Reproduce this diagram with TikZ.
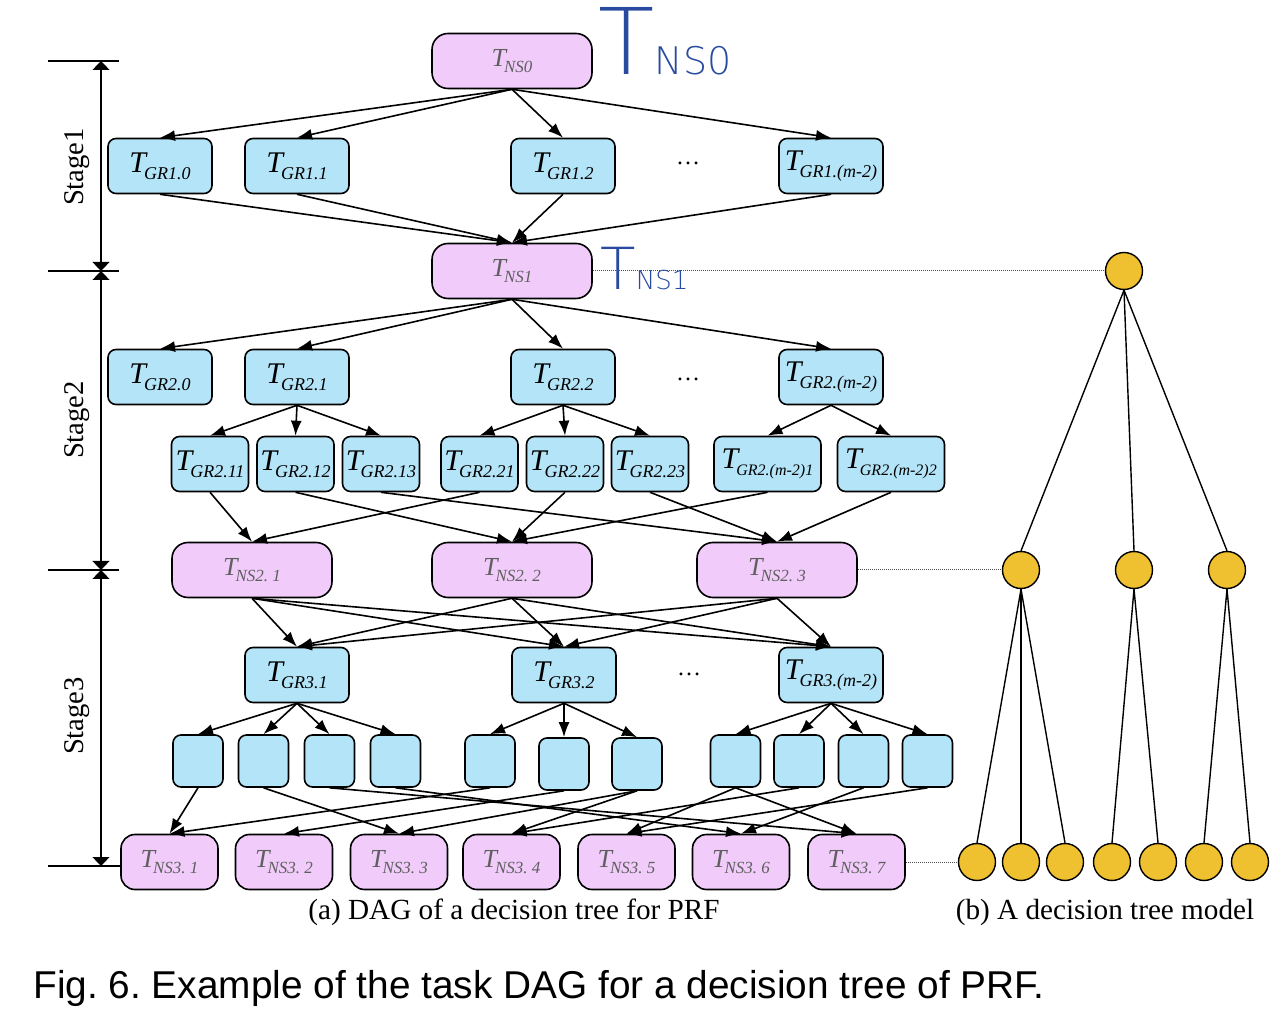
\documentclass[tikz,border=0pt]{standalone}
\usepackage{fontspec}
\setmainfont{Liberation Serif}
\newfontfamily\capfont{Liberation Sans}
\IfFontExistsTF{DejaVu Sans ExtraLight}
  {\newfontfamily\handfont{DejaVu Sans ExtraLight}}
  {\newfontfamily\handfont{Latin Modern Sans}}
\usepackage{tikz}
\usetikzlibrary{positioning, calc, arrows.meta}
\frenchspacing

\definecolor{nsPink}{RGB}{241, 204, 250}
\definecolor{grBlue}{RGB}{180, 228, 247}
\definecolor{treeGold}{RGB}{239, 192, 48}
\definecolor{handBlue}{RGB}{40, 75, 160}
\definecolor{nsGray}{RGB}{95, 95, 95}

% task labels: T with a small italic index
\newcommand{\tgr}[2][9pt]{{\fontsize{15pt}{15pt}\selectfont\itshape T}\kern-1pt\raisebox{-3.5pt}{\fontsize{#1}{#1}\selectfont\itshape #2}}
\newcommand{\tns}[1]{\textcolor{nsGray}{{\fontsize{13pt}{13pt}\selectfont\itshape T}\kern-1pt\raisebox{-3pt}{\fontsize{8.5pt}{8.5pt}\selectfont\itshape #1}}}

\begin{document}
\begin{tikzpicture}[
    x=0.5pt, y=-0.5pt,
    grbox/.style={rectangle, draw, line width=0.8pt, fill=grBlue, rounded corners=4pt,
                  minimum width=52pt, minimum height=27.5pt, inner sep=0pt},
    subbox/.style={grbox, minimum width=38.5pt},
    widebox/.style={grbox, minimum width=53.5pt},
    smallbox/.style={grbox, minimum width=25pt, minimum height=26pt},
    nsbox/.style={rectangle, draw, line width=0.8pt, fill=nsPink, rounded corners=8pt,
                  minimum width=80pt, minimum height=27.5pt, inner sep=0pt},
    ns3box/.style={nsbox, minimum width=48.5pt, rounded corners=7pt},
    arrow/.style={-{Latex[length=7.5pt, width=5.5pt]}, line width=0.8pt},
    dimarrow/.style={{Triangle[length=4.5pt, width=8.5pt]}-{Triangle[length=4.5pt, width=8.5pt]}, line width=0.6pt},
    ticklin/.style={line width=0.6pt},
    dotline/.style={dash pattern=on 0.4pt off 0.6pt, black!70, line width=0.5pt},
    treenode/.style={circle, draw, line width=0.7pt, fill=treeGold, minimum size=18.5pt, inner sep=0pt},
    treeline/.style={line width=0.7pt},
    stagelbl/.style={rotate=90, font=\fontsize{14.3pt}{14.3pt}\selectfont},
    subcap/.style={font=\fontsize{14.6pt}{14.6pt}\selectfont},
    figcap/.style={font=\capfont\fontsize{19.4pt}{19.4pt}\selectfont, anchor=west, inner sep=0pt},
    hand/.style={text=handBlue, font=\handfont, inner sep=0pt, anchor=base west},
    dotsnode/.style={font=\fontsize{12pt}{12pt}\selectfont},
  ]
    \useasboundingbox (0,0) rectangle (1284,1036);

    % Stage 1
    \node[nsbox] (NS0) at (512,61) {\tns{NS0}};
    \node[grbox] (GR10) at (160,166) {\tgr{GR1.0}};
    \node[grbox] (GR11) at (297,166) {\tgr{GR1.1}};
    \node[grbox] (GR12) at (563,166) {\tgr{GR1.2}};
    \node[dotsnode] (D1) at (688,163) {\dots};
    \node[grbox] (GR1m) at (831,166) {\tgr{GR1.(m-2)}};
    \node[nsbox] (NS1) at (512,271) {\tns{NS1}};
    \foreach \t in {GR10,GR11,GR12,GR1m}
      \draw[arrow] (NS0.south) -- (\t.north);
    \foreach \s in {GR10,GR11,GR12,GR1m}
      \draw[arrow] (\s.south) -- (NS1.north);

    % Stage 2
    \node[grbox] (GR20) at (160,377) {\tgr{GR2.0}};
    \node[grbox] (GR21) at (297,377) {\tgr{GR2.1}};
    \node[grbox] (GR22) at (563,377) {\tgr{GR2.2}};
    \node[dotsnode] (D2) at (688,379) {\dots};
    \node[grbox] (GR2m) at (831,377) {\tgr{GR2.(m-2)}};
    \node[subbox] (GR211) at (210,464) {\tgr{GR2.11}};
    \node[subbox] (GR212) at (295.5,464) {\tgr{GR2.12}};
    \node[subbox] (GR213) at (381,464) {\tgr{GR2.13}};
    \node[subbox] (GR221) at (479.5,464) {\tgr{GR2.21}};
    \node[subbox] (GR222) at (565,464) {\tgr{GR2.22}};
    \node[subbox] (GR223) at (650,464) {\tgr{GR2.23}};
    \node[widebox] (GR2m1) at (767.5,464) {\tgr[8pt]{GR2.(m-2)1}};
    \node[widebox] (GR2m2) at (891,464) {\tgr[8pt]{GR2.(m-2)2}};
    \node[nsbox] (NS21) at (252,570) {\tns{NS2. 1}};
    \node[nsbox] (NS22) at (512,570) {\tns{NS2. 2}};
    \node[nsbox] (NS23) at (777,570) {\tns{NS2. 3}};
    \foreach \t in {GR20,GR21,GR22,GR2m}
      \draw[arrow] (NS1.south) -- (\t.north);
    \foreach \s/\t in {GR21/GR211, GR21/GR212, GR21/GR213, GR22/GR221, GR22/GR222,
                       GR22/GR223, GR2m/GR2m1, GR2m/GR2m2}
      \draw[arrow] (\s.south) -- (\t.north);
    \foreach \s/\t in {GR211/NS21, GR212/NS22, GR213/NS23, GR221/NS21, GR222/NS22,
                       GR223/NS23, GR2m1/NS22, GR2m2/NS23}
      \draw[arrow] (\s.south) -- (\t.north);

    % Stage 3
    \node[grbox] (GR31) at (297,675) {\tgr{GR3.1}};
    \node[grbox] (GR32) at (564,675) {\tgr{GR3.2}};
    \node[dotsnode] (D3) at (689,674) {\dots};
    \node[grbox] (GR3m) at (831,675) {\tgr{GR3.(m-2)}};
    \foreach \x/\y [count=\i] in {198/761, 263.5/761, 329.5/761, 395.5/761, 490/761, 564/764,
                                  637/764, 735.5/761, 799/761, 863.5/761, 927.5/761}
      \node[smallbox] (B\i) at (\x,\y) {};
    \foreach \x [count=\i] in {169.5, 284, 399, 511.5, 626.5, 741, 856.5}
      \node[ns3box] (N\i) at (\x,862) {\tns{NS3. \i}};
    \foreach \s in {NS21,NS22,NS23}
      \foreach \t in {GR31,GR32,GR3m}
        \draw[arrow] (\s.south) -- (\t.north);
    \foreach \s/\t in {GR31/B1, GR31/B2, GR31/B3, GR31/B4, GR32/B5, GR32/B6, GR32/B7,
                       GR3m/B8, GR3m/B9, GR3m/B10, GR3m/B11}
      \draw[arrow] (\s.south) -- (\t.north);
    \foreach \s/\t in {B1/N1, B5/N1, B6/N2, B2/N3, B7/N3, B7/N4, B9/N4, B8/N5,
                       B11/N5, B4/N6, B10/N6, B3/N7, B8/N7}
      \draw[arrow] (\s.south) -- (\t.north);

    % Stage scale on the left
    \coordinate (L0) at (101,61);
    \coordinate (L1) at (101,271);
    \coordinate (L2) at (101,570);
    \coordinate (L3) at (101,866);
    \draw[ticklin] (48,61) -- (119,61);
    \draw[ticklin] (48,271) -- (119,271);
    \draw[ticklin] (48,570) -- (119,570);
    \draw[ticklin] (48,866) -- (N1.west |- L3);
    \draw[dimarrow] (L0) -- (L1);
    \draw[dimarrow] (L1) -- (L2);
    \draw[dimarrow] (L2) -- (L3);
    \node[stagelbl] (ST1) at (77,167) {Stage1};
    \node[stagelbl] (ST2) at (77,420) {Stage2};
    \node[stagelbl] (ST3) at (77,716) {Stage3};

    % Handwritten notes
    \node[hand] (H0) at (598,75) {\fontsize{46pt}{46pt}\selectfont T\fontsize{19pt}{19pt}\selectfont NS0};
    \node[hand] (H1) at (600,290) {\fontsize{29pt}{29pt}\selectfont T\fontsize{13pt}{13pt}\selectfont NS1};

    % Decision tree
    \node[treenode] (R) at (1124,271) {};
    \node[treenode] (M1) at (1021,570) {};
    \node[treenode] (M2) at (1134,570) {};
    \node[treenode] (M3) at (1227,570) {};
    \foreach \x [count=\i] in {977, 1021, 1065, 1112, 1158, 1204, 1250}
      \node[treenode] (LF\i) at (\x,862) {};
    \foreach \m in {M1,M2,M3}
      \draw[treeline] (R.south) -- (\m.north);
    \foreach \m/\l in {M1/LF1, M1/LF2, M1/LF3, M2/LF4, M2/LF5, M3/LF6, M3/LF7}
      \draw[treeline] (\m.south) -- (\l.north);
    \draw[dotline] (NS1.east) -- (R.west);
    \draw[dotline] (NS23.east) -- (M1.west);
    \draw[dotline] (N7.east) -- (LF1.west);

    % Captions
    \node[subcap] (CA) at (514,912) {(a) DAG of a decision tree for PRF};
    \node[subcap] (CB) at (1105,912) {(b) A decision tree model};
    \node[figcap] (FIG) at (33,988) {Fig. 6. Example of the task DAG for a decision tree of PRF.};
\end{tikzpicture}
\end{document}
